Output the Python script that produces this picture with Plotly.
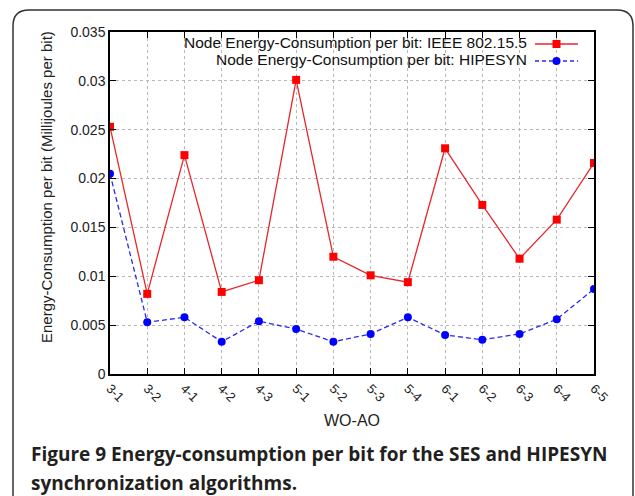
import plotly.graph_objects as go

categories = ["3-1", "3-2", "4-1", "4-2", "4-3", "5-1", "5-2", "5-3", "5-4",
              "6-1", "6-2", "6-3", "6-4", "6-5"]
ieee_values = [0.0253, 0.0082, 0.0224, 0.0084, 0.0096, 0.0301, 0.0120, 0.0101,
               0.0094, 0.0231, 0.0173, 0.0118, 0.0158, 0.0216]
hipesyn_values = [0.0205, 0.0053, 0.0058, 0.0033, 0.0054, 0.0046, 0.0033, 0.0041,
                  0.0058, 0.0040, 0.0035, 0.0041, 0.0056, 0.0087]
y_ticks = [0, 0.005, 0.01, 0.015, 0.02, 0.025, 0.03, 0.035]
y_tick_labels = ["0", "0.005", "0.01", "0.015", "0.02", "0.025", "0.03", "0.035"]
series_names = ["Node Energy-Consumption per bit: IEEE 802.15.5",
                "Node Energy-Consumption per bit: HIPESYN"]

W, H = 635, 496
L, R, T, B = 110, 594, 32, 374  # plot area in pixels


def px(x):
    return (x - L) / (R - L)


def py(y):
    return (B - y) / (B - T)


FONT = "Liberation Sans, Arial, sans-serif"
RED_LINE = "#e8262b"
BLUE_LINE = "#2a2af0"

fig = go.Figure()
fig.add_trace(go.Scatter(
    x=categories, y=ieee_values, mode="lines+markers", name=series_names[0],
    line=dict(color=RED_LINE, width=1.3),
    marker=dict(symbol="square", size=8, color="#ff0000"),
    showlegend=False))
fig.add_trace(go.Scatter(
    x=categories, y=hipesyn_values, mode="lines+markers", name=series_names[1],
    line=dict(color=BLUE_LINE, width=1.3, dash="5px,3px"),
    marker=dict(symbol="circle", size=8, color="#0000ff"),
    showlegend=False))

axis_common = dict(showline=True, linecolor="black", linewidth=1.5, mirror="allticks",
                   ticks="inside", ticklen=6, tickwidth=1.3, tickcolor="black",
                   showgrid=True, gridcolor="#b8b8b8", gridwidth=1, griddash="dot",
                   zeroline=False)

fig.update_xaxes(type="category", range=[0, len(categories) - 1], tickangle=45,
                 tickmode="array", tickvals=categories, ticktext=categories,
                 tickfont=dict(family=FONT, size=13, color="#222"),
                 **axis_common)
fig.update_yaxes(range=[0, 0.035], tickmode="array", tickvals=y_ticks,
                 ticktext=y_tick_labels,
                 tickfont=dict(family=FONT, size=14, color="#222"),
                 **axis_common)

shapes = []
# outer rounded border (cut off at right and bottom)
x0, y0, x1, y1, r = 13, 10, 633, 520, 16
path = (f"M {px(x0)},{py(y0 + r)} Q {px(x0)},{py(y0)} {px(x0 + r)},{py(y0)} "
        f"L {px(x1 - r)},{py(y0)} Q {px(x1)},{py(y0)} {px(x1)},{py(y0 + r)} "
        f"L {px(x1)},{py(y1)} L {px(x0)},{py(y1)} Z")
shapes.append(dict(type="path", path=path, xref="paper", yref="paper",
                   line=dict(color="#333333", width=1.5), layer="below"))

# legend samples
leg_y = [44, 61]
colors = [RED_LINE, BLUE_LINE]
dashes = ["solid", "4px,3px"]
for i in range(2):
    shapes.append(dict(type="line", xref="paper", yref="paper",
                       x0=px(535), x1=px(578), y0=py(leg_y[i]), y1=py(leg_y[i]),
                       line=dict(color=colors[i], width=1.3, dash=dashes[i])))
shapes.append(dict(type="rect", xref="paper", yref="paper",
                   x0=px(552.5), x1=px(560.5), y0=py(leg_y[0] - 4), y1=py(leg_y[0] + 4),
                   fillcolor="#ff0000", line=dict(width=0)))
shapes.append(dict(type="circle", xref="paper", yref="paper",
                   x0=px(552.5), x1=px(560.5), y0=py(leg_y[1] - 4), y1=py(leg_y[1] + 4),
                   fillcolor="#0000ff", line=dict(width=0)))

annotations = []
for i in range(2):
    annotations.append(dict(text=series_names[i], xref="paper", yref="paper",
                            x=px(528), y=py(leg_y[i] - 2), xanchor="right", yanchor="middle",
                            showarrow=False, borderpad=0,
                            font=dict(family=FONT, size=15.5, color="#111")))
# axis titles
annotations.append(dict(text="Energy-Consumption per bit (Millijoules per bit)",
                        xref="paper", yref="paper", x=px(46), y=py(187), textangle=-90,
                        xanchor="center", yanchor="middle", showarrow=False,
                        font=dict(family=FONT, size=15, color="#222")))
annotations.append(dict(text="WO-AO", xref="paper", yref="paper", x=px(352), y=py(421),
                        xanchor="center", yanchor="middle", showarrow=False,
                        font=dict(family=FONT, size=16, color="#222")))
# caption
CAP = "Open Sans, Noto Sans, sans-serif"
annotations.append(dict(text="<b>Figure 9 Energy-consumption per bit for the SES and HIPESYN</b>",
                        xref="paper", yref="paper", x=px(29), y=py(454),
                        xanchor="left", yanchor="middle", showarrow=False,
                        font=dict(family=CAP, size=19, color="#231f20")))
annotations.append(dict(text="<b>synchronization algorithms.</b>",
                        xref="paper", yref="paper", x=px(29), y=py(483),
                        xanchor="left", yanchor="middle", showarrow=False,
                        font=dict(family=CAP, size=19, color="#231f20")))

fig.update_layout(width=W, height=H, margin=dict(l=L, r=W - R, t=T, b=H - B),
                  paper_bgcolor="white", plot_bgcolor="white",
                  shapes=shapes, annotations=annotations, showlegend=False)

fig.write_html("out.html")
